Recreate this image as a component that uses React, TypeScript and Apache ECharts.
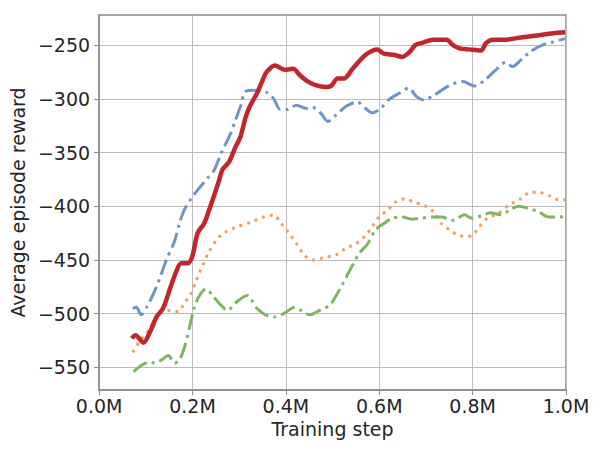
import React, { useEffect, useRef } from "react";
import * as echarts from "echarts";

// steps in thousands
const redSteps = [70,78,95,109,123,137,151,165,176,190,200,211,225,236,247,257,264,278,292,303,314,324,338,349,359,377,398,416,430,444,462,486,497,511,525,543,571,596,610,631,649,666,677,691,716,744,758,772,793,818,829,843,867,903,938,973,998];
const redReward = [-523,-520,-527,-517,-503,-495,-478,-461,-453,-453,-446,-425,-416,-403,-389,-376,-366,-359,-345,-335,-317,-306,-295,-284,-275,-269,-273,-272,-278,-283,-287,-289,-288,-281,-281,-272,-259,-254,-258,-259,-261,-256,-250,-248,-245,-245,-250,-253,-254,-255,-248,-245,-245,-243,-241,-239,-238];

const blueSteps = [72,80,90,102,123,144,162,172,183,197,211,232,247,261,271,282,292,303,314,338,359,374,388,402,423,444,458,476,490,508,529,553,571,585,603,620,642,663,680,695,716,737,758,779,804,825,850,871,885,903,924,949,973,998];
const blueReward = [-495,-494,-501,-494,-475,-450,-432,-416,-403,-393,-385,-374,-366,-351,-342,-332,-320,-307,-293,-292,-294,-300,-310,-310,-306,-309,-308,-314,-321,-315,-307,-303,-309,-313,-309,-301,-295,-290,-298,-301,-297,-291,-286,-284,-288,-283,-273,-266,-270,-264,-256,-250,-247,-244];

const orangeSteps = [72,88,102,120,134,151,169,183,197,208,222,236,254,271,296,324,352,374,388,405,423,441,458,479,508,529,550,571,585,599,617,635,656,673,695,716,733,751,769,786,800,814,832,853,878,903,924,941,963,984,998];
const orangeReward = [-536,-525,-518,-506,-498,-497,-498,-490,-481,-469,-455,-442,-430,-424,-419,-415,-410,-408,-415,-424,-435,-446,-450,-448,-445,-439,-435,-427,-419,-410,-404,-396,-393,-396,-399,-405,-416,-422,-427,-428,-427,-419,-411,-407,-399,-393,-387,-387,-390,-394,-394];

const greenSteps = [74,91,109,120,134,148,162,172,183,194,204,215,229,243,261,275,292,317,338,356,374,395,419,433,451,472,494,508,522,539,557,575,592,610,628,649,670,691,712,733,758,783,797,818,839,860,881,899,920,941,963,987,998];
const greenReward = [-554,-548,-545,-546,-543,-539,-546,-543,-531,-512,-494,-483,-477,-483,-492,-497,-490,-483,-495,-501,-503,-500,-494,-497,-501,-497,-492,-483,-472,-458,-444,-435,-422,-416,-411,-410,-412,-411,-410,-410,-413,-408,-411,-409,-406,-408,-403,-400,-402,-405,-410,-410,-409];

const yTicks = [-550, -500, -450, -400, -350, -300, -250];

const pair = (xs: number[], ys: number[]) => xs.map((x, i) => [x * 1000, ys[i]]);

export default function App() {
  const ref = useRef<HTMLDivElement>(null);
  useEffect(() => {
    const chart = echarts.init(ref.current!, null, { renderer: "svg" });
    const font = "DejaVu Sans";
    const txt = "#262626";
    const axisGray = "#8a8a8a";
    const gridGray = "#bdbdbd";
    const mk = (name: string, xs: number[], ys: number[], color: string, width: number, dash: any, z: number) => ({
      name,
      type: "line",
      data: pair(xs, ys),
      showSymbol: false,
      smooth: 0.3,
      z,
      lineStyle: { color, width, type: dash, cap: "butt" },
    });
    chart.setOption({
      animation: false,
      backgroundColor: "#ffffff",
      grid: { left: 93, right: 34, top: 15, bottom: 60, show: true, borderColor: axisGray, borderWidth: 1.5 },
      xAxis: {
        type: "value",
        min: 0,
        max: 1000000,
        interval: 200000,
        name: "Training step",
        nameLocation: "middle",
        nameGap: 27,
        nameTextStyle: { fontFamily: font, fontSize: 19, color: txt, verticalAlign: "top" },
        axisLine: { show: true, lineStyle: { color: axisGray, width: 1.5 } },
        axisTick: { show: true, length: 5, lineStyle: { color: axisGray, width: 1 } },
        axisLabel: {
          margin: 6,
          fontFamily: font,
          fontSize: 19,
          color: txt,
          formatter: (v: number) => (v / 1e6).toFixed(1) + "M",
        },
        splitLine: { show: true, lineStyle: { color: gridGray, width: 1 } },
      },
      yAxis: {
        type: "value",
        min: -571,
        max: -222,
        name: "Average episode reward",
        nameLocation: "middle",
        nameGap: 64,
        nameTextStyle: { fontFamily: font, fontSize: 19, color: txt },
        axisLine: { show: true, lineStyle: { color: axisGray, width: 1.5 } },
        axisTick: { show: true, length: 5, customValues: yTicks, lineStyle: { color: axisGray, width: 1 } },
        axisLabel: {
          margin: 9,
          fontFamily: font,
          fontSize: 19,
          color: txt,
          customValues: yTicks,
          formatter: (v: number) => String(v).replace("-", "\u2212"),
        },
        splitLine: { show: true, lineStyle: { color: gridGray, width: 1 } },
      },
      series: [
        mk("blue", blueSteps, blueReward, "#6f94c7", 3, [16, 5, 3, 5], 2),
        mk("orange", orangeSteps, orangeReward, "#f1a15c", 3, [3, 5], 3),
        mk("green", greenSteps, greenReward, "#7fb461", 3, [16, 5, 3, 5], 4),
        mk("red", redSteps, redReward, "#bf272c", 4.5, "solid", 5),
      ],
    });
    return () => chart.dispose();
  }, []);
  return <div ref={ref} style={{ width: 600, height: 450, position: "absolute", left: 0, top: 0 }} />;
}
